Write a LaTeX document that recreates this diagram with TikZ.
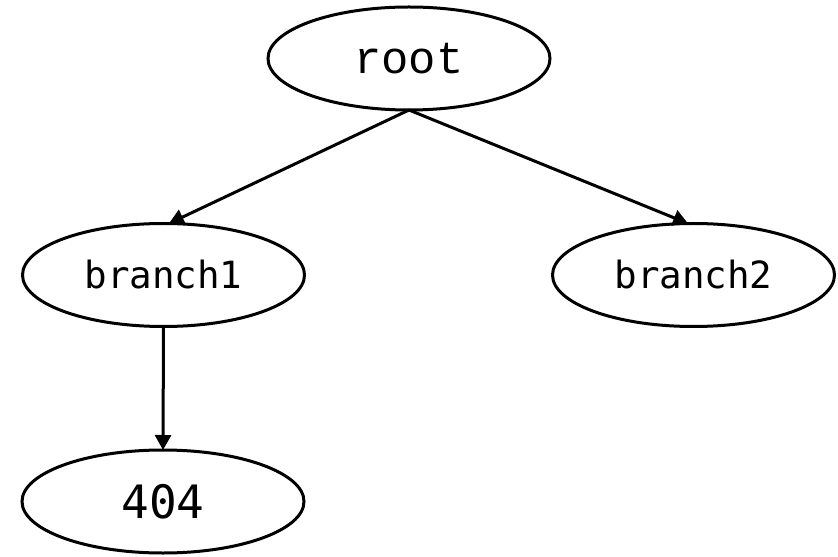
\documentclass[tikz,border=0pt]{standalone}
\usepackage{fontspec}
\usetikzlibrary{shapes.geometric,arrows.meta}
\newfontfamily\serifmono{Liberation Mono}
\newfontfamily\sansmono{DejaVu Sans Mono}
\tikzset{
  treenode/.style={draw, ellipse, line width=3bp, inner sep=0pt, outer sep=0pt,
    minimum width=282bp, minimum height=103bp},
  rootlabel/.style={font=\serifmono\fontsize{45.5bp}{50bp}\selectfont},
  branchlabel/.style={font=\sansmono\fontsize{37.5bp}{40bp}\selectfont},
  leaflabel/.style={font=\sansmono\fontsize{46bp}{50bp}\selectfont},
  link/.style={line width=3bp, -{Triangle[length=15bp,width=16bp]}}
}
\begin{document}
\begin{tikzpicture}[x=1bp,y=-1bp]
  \useasboundingbox (0,0) rectangle (838,557);
  \node[treenode, rootlabel]   (root) at (409,58.5)  {root};
  \node[treenode, branchlabel] (b1)   at (163.5,275) {branch1};
  \node[treenode, branchlabel] (b2)   at (693.5,275) {branch2};
  \node[treenode, leaflabel]   (leaf) at (163,501.5) {404};
  \draw[link] (root.south) -- (b1.84);
  \draw[link] (root.south) -- (b2.96);
  \draw[link] (b1.south) -- (leaf.north);
\end{tikzpicture}
\end{document}
